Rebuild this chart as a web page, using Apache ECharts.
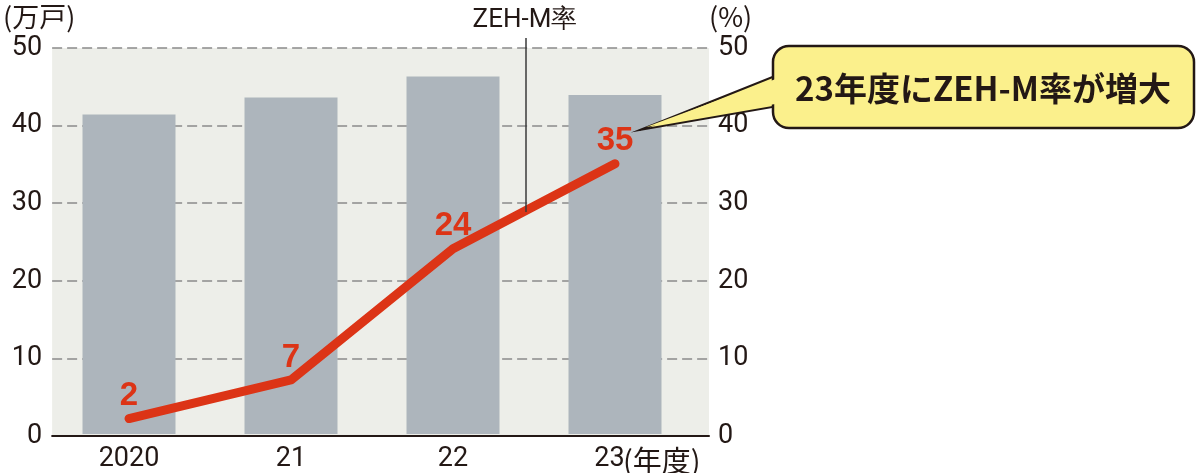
<!DOCTYPE html>
<html>
<head>
<meta charset="utf-8">
<script src="https://cdn.jsdelivr.net/npm/echarts@6/dist/echarts.min.js"></script>
<style>
  html, body { margin: 0; padding: 0; background: #fff; }
  #chart { width: 1200px; height: 473px; }
</style>
</head>
<body>
<div id="chart"></div>
<script>
// 年度
const years = ['2020', '21', '22', '23'];
// 新築戸数（万戸）
const units = [41.4, 43.6, 46.3, 43.9];
// ZEH-M率（%）
const zehRate = [2, 7, 24, 35];
// 目盛り
const axisMin = 0, axisMax = 50, axisStep = 10;

const NARROW = 'Roboto, "Noto Sans", sans-serif';
const CJK = '"Noto Sans CJK JP", sans-serif';
const INK = '#231815';
const RED = '#dc3416';

const chart = echarts.init(document.getElementById('chart'));

const hiddenY = () => ({
  type: 'value', gridIndex: 1, min: axisMin, max: axisMax, interval: axisStep,
  show: false, splitLine: { show: false }
});

const tickFont = { color: INK, fontFamily: NARROW, fontSize: 27 };

chart.setOption({
  animation: false,
  grid: [
    // 背景・目盛り用
    { left: 36, right: 491, top: 48, bottom: 37, show: true, backgroundColor: '#edeee9', borderWidth: 0 },
    // 棒・線用
    { left: 48, right: 504, top: 48, bottom: 37 }
  ],
  xAxis: [
    {
      type: 'category', gridIndex: 0, data: [''],
      axisLine: { show: true, lineStyle: { color: INK, width: 2 } },
      axisTick: { show: false }, axisLabel: { show: false }
    },
    {
      type: 'category', gridIndex: 1, data: years,
      axisLine: { show: false }, axisTick: { show: false },
      axisLabel: Object.assign({}, tickFont, {
        margin: 12,
        formatter: (v, i) => i === years.length - 1 ? v + '{pad|}' : v,
        rich: { pad: { width: 11 } }
      })
    }
  ],
  yAxis: [
    {
      type: 'value', gridIndex: 0, position: 'left',
      min: axisMin, max: axisMax, interval: axisStep,
      name: '(万戸)', nameLocation: 'end', nameGap: 18,
      nameTextStyle: { color: INK, fontFamily: CJK, fontSize: 27, align: 'center', padding: [0, 26, 0, 0] },
      axisLine: { show: false }, axisTick: { show: false },
      axisLabel: Object.assign({}, tickFont, { margin: 10 }),
      splitLine: { show: true, lineStyle: { color: '#8a8a8a', width: 1.5, type: [10, 5] } }
    },
    {
      type: 'value', gridIndex: 0, position: 'right',
      min: axisMin, max: axisMax, interval: axisStep,
      name: '(%)', nameLocation: 'end', nameGap: 18,
      nameTextStyle: { color: INK, fontFamily: CJK, fontSize: 27, align: 'left' },
      axisLine: { show: false }, axisTick: { show: false },
      axisLabel: Object.assign({}, tickFont, { margin: 9 }),
      splitLine: { show: false }
    },
    hiddenY(),
    hiddenY()
  ],
  series: [
    {
      type: 'bar', xAxisIndex: 1, yAxisIndex: 2,
      data: units, barWidth: 93,
      itemStyle: { color: '#adb5bc' }
    },
    {
      type: 'line', xAxisIndex: 1, yAxisIndex: 3,
      data: zehRate, symbol: 'circle', symbolSize: 2, showSymbol: true,
      itemStyle: { color: RED },
      lineStyle: { color: RED, width: 9, cap: 'round', join: 'round' },
      label: {
        show: true, position: 'top', distance: 5,
        color: RED, fontFamily: '"Liberation Sans", Arial, sans-serif',
        fontWeight: 'bold', fontSize: 33
      }
    }
  ],
  graphic: [
    // ZEH-M率の注記
    {
      type: 'text', x: 525, y: 20, z: 100,
      style: { text: 'ZEH-M率', fill: INK, font: '26px ' + NARROW, textAlign: 'center', textVerticalAlign: 'middle' }
    },
    {
      type: 'line', z: 100, shape: { x1: 526, y1: 38, x2: 526, y2: 212 },
      style: { stroke: '#3a3a3a', lineWidth: 1.5 }
    },
    {
      type: 'text', x: 623, y: 461, z: 100,
      style: { text: '(年度)', fill: INK, font: '29px ' + CJK, textVerticalAlign: 'middle' }
    },
    // 吹き出し
    {
      type: 'polygon', z: 100, shape: { points: [[640, 130], [790, 70], [790, 104]] },
      style: { fill: '#fbf08c', stroke: INK, lineWidth: 2 }
    },
    {
      type: 'rect', z: 100, shape: { x: 773, y: 46, width: 421, height: 82, r: 16 },
      style: { fill: '#fbf08c', stroke: INK, lineWidth: 2.5 }
    },
    {
      type: 'polygon', z: 100, shape: { points: [[646, 127], [792, 73], [792, 101]] },
      style: { fill: '#fbf08c' }
    },
    {
      type: 'text', x: 983, y: 88, z: 100,
      style: {
        text: '23年度にZEH-M率が増大', fill: INK,
        font: 'bold 33px ' + CJK, textAlign: 'center', textVerticalAlign: 'middle'
      }
    }
  ]
});
</script>
</body>
</html>
